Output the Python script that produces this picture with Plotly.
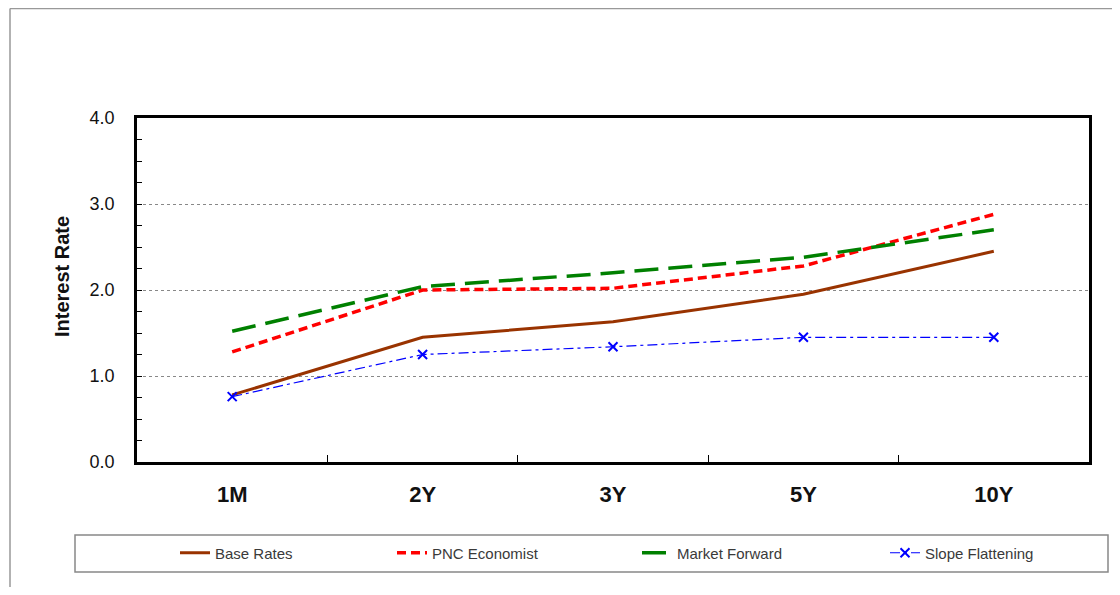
import plotly.graph_objects as go

categories = ["1M", "2Y", "3Y", "5Y", "10Y"]
base_rates = [0.78, 1.45, 1.63, 1.95, 2.45]
pnc_economist = [1.28, 2.00, 2.02, 2.28, 2.88]
market_forward = [1.52, 2.04, 2.20, 2.38, 2.70]
slope_flattening = [0.76, 1.25, 1.34, 1.45, 1.45]
y_ticks = [0.0, 1.0, 2.0, 3.0, 4.0]

FONT = "Liberation Sans, Arial, sans-serif"
NARROW = "Liberation Sans Narrow, Arial Narrow, Liberation Sans, sans-serif"

# body margin of the page is 8px on every side; figure coords = screen coords - 8
OFF = 8
W, H = 1120 - 2 * OFF, 595 - 2 * OFF
L, T = 137 - OFF, 118 - OFF
R = W - (1089 - OFF)
B = H - (462 - OFF)
pw, ph = W - L - R, H - T - B


def px(x):
    return (x - OFF - L) / pw


def py(y):
    return (H - B - (y - OFF)) / ph


fig = go.Figure()
fig.add_trace(go.Scatter(x=categories, y=base_rates, name="Base Rates", mode="lines",
                         line=dict(color="#993300", width=3), legend="legend"))
fig.add_trace(go.Scatter(x=categories, y=pnc_economist, name="PNC Economist", mode="lines",
                         line=dict(color="#FF0000", width=3.5, dash="9px,5px"), legend="legend2"))
fig.add_trace(go.Scatter(x=categories, y=market_forward, name="Market Forward", mode="lines",
                         line=dict(color="#008000", width=3.5, dash="24px,10px"), legend="legend3"))
fig.add_trace(go.Scatter(x=categories, y=slope_flattening, name="Slope Flattening", mode="lines+markers",
                         line=dict(color="#0000FF", width=1.2, dash="10px,4px,3px,4px"),
                         marker=dict(symbol="x-thin", size=9, line=dict(color="#0000FF", width=2)),
                         legend="legend4"))

shapes = [
    dict(type="line", xref="paper", yref="paper", x0=px(10), x1=px(1140), y0=py(8.5), y1=py(8.5),
         line=dict(color="#999999", width=1.5), layer="below"),
    dict(type="line", xref="paper", yref="paper", x0=px(10), x1=px(10), y0=py(8.5), y1=py(620),
         line=dict(color="#999999", width=1.5), layer="below"),
    dict(type="rect", xref="paper", yref="paper", x0=px(75), x1=px(1108), y0=py(572), y1=py(535),
         line=dict(color="#888888", width=1.5), layer="below"),
]

legend_text_x = [215, 432, 677, 925]


def leg(xs):
    return dict(orientation="h", x=px(xs - 40), xanchor="left", y=py(553), yanchor="middle",
                font=dict(family=NARROW, size=15, color="#3a3a3a"),
                itemwidth=30, bgcolor="rgba(0,0,0,0)")


fig.update_layout(
    width=W, height=H,
    margin=dict(l=L, r=R, t=T, b=B),
    paper_bgcolor="white", plot_bgcolor="white",
    font=dict(family=FONT, color="black"),
    shapes=shapes,
    showlegend=True,
    legend=leg(legend_text_x[0]),
    legend2=leg(legend_text_x[1]),
    legend3=leg(legend_text_x[2]),
    legend4=leg(legend_text_x[3]),
    annotations=[dict(text="Interest Rate", xref="paper", yref="paper", x=px(62), y=py(277),
                      xanchor="center", yanchor="middle", textangle=-90, showarrow=False,
                      font=dict(family=FONT, size=20, weight="bold", color="#111111"))],
    xaxis=dict(
        type="category", showline=True, linecolor="black", linewidth=2.5, mirror=True,
        ticks="inside", tickson="boundaries", ticklen=7, tickcolor="black", tickwidth=1,
        showgrid=False, tickfont=dict(family=FONT, size=22, color="#111111", weight="bold"),
        ticklabelstandoff=11, range=[-0.5, 4.5],
    ),
    yaxis=dict(
        range=[0, 4], tickvals=y_ticks, ticktext=[f"{v:.1f}" for v in y_ticks],
        showline=True, linecolor="black", linewidth=2.5, mirror=True,
        ticks="inside", ticklen=5, tickcolor="black",
        minor=dict(dtick=0.25, ticks="inside", ticklen=5, tickcolor="black", showgrid=False),
        showgrid=True, gridcolor="#888888", griddash="dot", gridwidth=1,
        tickfont=dict(family=FONT, size=18, color="#111111"), ticklabelstandoff=16,
        zeroline=False,
    ),
)

fig.write_html("out.html")
